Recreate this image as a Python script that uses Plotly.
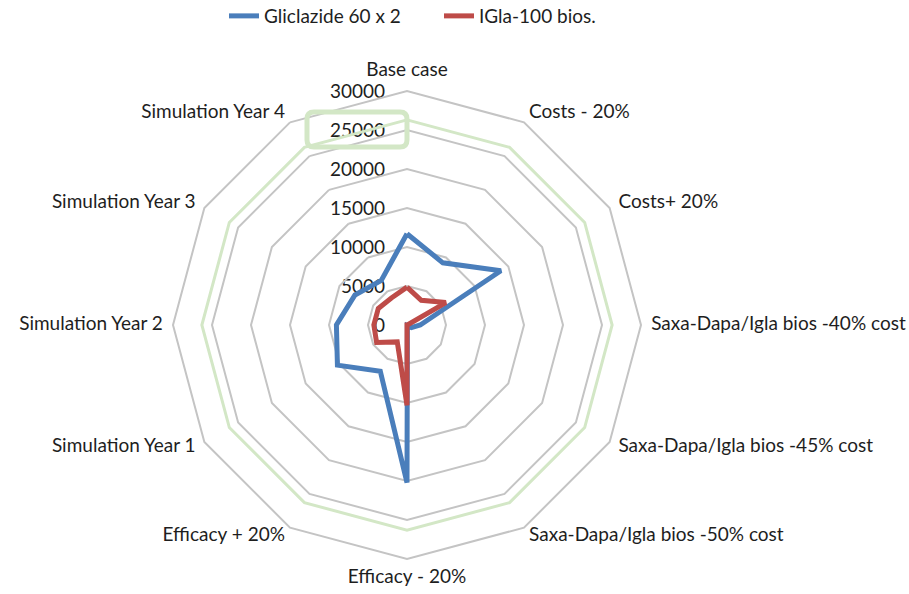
import plotly.graph_objects as go

categories = ["Base case", "Costs - 20%", "Costs+ 20%",
              "Saxa-Dapa/Igla bios -40% cost", "Saxa-Dapa/Igla bios -45% cost",
              "Saxa-Dapa/Igla bios -50% cost", "Efficacy - 20%", "Efficacy + 20%",
              "Simulation Year 1", "Simulation Year 2", "Simulation Year 3",
              "Simulation Year 4"]
gliclazide = [11700, 9200, 13900, 1700, 650, 100, 20200, 6850, 10300, 9050, 7700, 6600]
igla = [4850, 3650, 5750, 50, 0, 0, 10300, 2500, 4500, 4250, 4250, 4000]
threshold = [26300, 26300, 26300, 26300, 26300, 26300, 26300, 26300, 26300, 26300, 26300, 26300]
radial_ticks = [0, 5000, 10000, 15000, 20000, 25000, 30000]
radial_labels = ["0", "5000", "10000", "15000", "20000", "25000", "30000"]

def closed(v):
    return list(v) + [v[0]]

FONT = "Lato"
FS = 19
TXT = "#1e1e1e"
RMAX = 30000
LABEL_R = 31300   # category labels sit just outside the outer ring
LABEL_RMAX = 32000  # range of the invisible label layer

fig = go.Figure()
fig.add_trace(go.Scatterpolar(r=closed(threshold), theta=closed(categories), mode="lines",
                              line=dict(color="#d3e7c6", width=3), showlegend=False,
                              hoverinfo="skip"))
fig.add_trace(go.Scatterpolar(r=closed(gliclazide), theta=closed(categories), mode="lines",
                              name="Gliclazide 60 x 2",
                              line=dict(color="#4a7ebb", width=5)))
fig.add_trace(go.Scatterpolar(r=closed(igla), theta=closed(categories), mode="lines",
                              name="IGla-100 bios.",
                              line=dict(color="#be4b48", width=5)))
# category labels, Excel-style placement around the outer ring (on an invisible polar layer)
label_pos = ["top center"] + ["middle right"] * 5 + ["bottom center"] + ["middle left"] * 5
fig.add_trace(go.Scatterpolar(r=[LABEL_R] * len(categories), theta=categories, mode="text",
                              text=categories, textposition=label_pos, cliponaxis=False,
                              textfont=dict(family=FONT, size=FS, color=TXT),
                              showlegend=False, hoverinfo="skip", subplot="polar2"))
# carrier for the radial value labels (cartesian axis aligned with the radial axis)
fig.add_trace(go.Scatter(x=[None], y=[None], showlegend=False, hoverinfo="skip",
                         xaxis="x", yaxis="y"))

W, H = 909, 594
cx, cy, R = 407, 325, 234
R2 = R * LABEL_RMAX / RMAX
fig.update_layout(
    width=W, height=H,
    margin=dict(l=0, r=0, t=0, b=0, autoexpand=False),
    paper_bgcolor="white",
    plot_bgcolor="rgba(0,0,0,0)",
    font=dict(family=FONT, size=FS, color=TXT),
    showlegend=True,
    legend=dict(orientation="h", x=224 / W, xanchor="left", y=1.005, yanchor="top",
                font=dict(family=FONT, size=FS, color=TXT),
                entrywidth=170, entrywidthmode="pixels",
                traceorder="normal", bgcolor="rgba(0,0,0,0)"),
    xaxis=dict(visible=False, range=[0, 1], domain=[0, 1], fixedrange=True),
    yaxis=dict(range=[0, RMAX], domain=[(H - cy) / H, (H - cy + R) / H],
               anchor="free", position=cx / W, side="left",
               showgrid=False, zeroline=False, showline=False, ticks="",
               tickvals=radial_ticks, ticktext=radial_labels, ticklabelstandoff=22,
               tickfont=dict(family=FONT, size=FS, color=TXT), fixedrange=True),
    polar=dict(
        domain=dict(x=[(cx - R) / W, (cx + R) / W], y=[(H - cy - R) / H, (H - cy + R) / H]),
        bgcolor="rgba(0,0,0,0)",
        gridshape="linear",
        angularaxis=dict(direction="clockwise", rotation=90, showgrid=False,
                         showline=True, linecolor="#c4c4c4", linewidth=2,
                         ticks="", showticklabels=False,
                         categoryorder="array", categoryarray=categories),
        radialaxis=dict(range=[0, RMAX], angle=90, showline=False, showticklabels=False,
                        tickvals=radial_ticks,
                        gridcolor="#c4c4c4", gridwidth=2, ticks=""),
    ),
    polar2=dict(
        domain=dict(x=[(cx - R2) / W, (cx + R2) / W], y=[(H - cy - R2) / H, (H - cy + R2) / H]),
        bgcolor="rgba(0,0,0,0)",
        gridshape="linear",
        angularaxis=dict(direction="clockwise", rotation=90, showgrid=False,
                         showline=False, ticks="", showticklabels=False,
                         categoryorder="array", categoryarray=categories),
        radialaxis=dict(range=[0, LABEL_RMAX], visible=False, showgrid=False),
    ),
)

# rounded highlight box around the 25000 label
x0, x1, y0, y1, rr = 307, 407, 112, 147, 7
path = (f"M {x0+rr},{y0} L {x1-rr},{y0} Q {x1},{y0} {x1},{y0+rr} L {x1},{y1-rr} "
        f"Q {x1},{y1} {x1-rr},{y1} L {x0+rr},{y1} Q {x0},{y1} {x0},{y1-rr} "
        f"L {x0},{y0+rr} Q {x0},{y0} {x0+rr},{y0} Z")
def to_paper(p):
    out = []
    for t in p.split(" "):
        if "," in t:
            a, b = t.split(",")
            out.append(f"{float(a)/W:.5f},{1-float(b)/H:.5f}")
        else:
            out.append(t)
    return " ".join(out)
fig.add_shape(type="path", xref="paper", yref="paper", path=to_paper(path),
              line=dict(color="#d3e7c6", width=5), layer="above")

fig.write_html("out.html", config={"displayModeBar": False},
               post_script="document.body.style.margin='0';document.body.style.overflow='hidden';")
